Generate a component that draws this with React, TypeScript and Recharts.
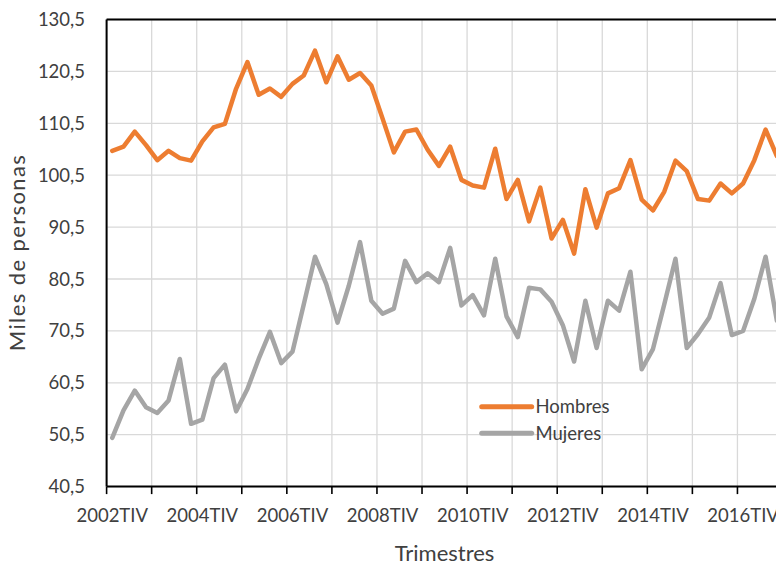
import React from 'react';
import { LineChart, Line, XAxis, YAxis, CartesianGrid, Legend, ReferenceLine, Label } from 'recharts';

const categories = [
  '2002TIV',
  '2003TI', '2003TII', '2003TIII', '2003TIV',
  '2004TI', '2004TII', '2004TIII', '2004TIV',
  '2005TI', '2005TII', '2005TIII', '2005TIV',
  '2006TI', '2006TII', '2006TIII', '2006TIV',
  '2007TI', '2007TII', '2007TIII', '2007TIV',
  '2008TI', '2008TII', '2008TIII', '2008TIV',
  '2009TI', '2009TII', '2009TIII', '2009TIV',
  '2010TI', '2010TII', '2010TIII', '2010TIV',
  '2011TI', '2011TII', '2011TIII', '2011TIV',
  '2012TI', '2012TII', '2012TIII', '2012TIV',
  '2013TI', '2013TII', '2013TIII', '2013TIV',
  '2014TI', '2014TII', '2014TIII', '2014TIV',
  '2015TI', '2015TII', '2015TIII', '2015TIV',
  '2016TI', '2016TII', '2016TIII', '2016TIV',
  '2017TI', '2017TII', '2017TIII',
];

const hombres = [
  105.2,
  106.0, 108.9, 106.3, 103.4,
  105.2, 103.8, 103.3, 107.0,
  109.7, 110.4, 117.2, 122.3,
  116.0, 117.2, 115.6, 118.1,
  119.7, 124.5, 118.4, 123.4,
  118.9, 120.2, 117.8, 111.4,
  104.9, 108.9, 109.3, 105.4,
  102.3, 106.0, 99.6, 98.5,
  98.1, 105.6, 95.9, 99.6,
  91.6, 98.1, 88.3, 91.9,
  85.4, 97.8, 90.4, 97.0,
  98.0, 103.4, 95.8, 93.7,
  97.3, 103.3, 101.3, 95.9,
  95.6, 98.9, 97.0, 98.9,
  103.4, 109.3, 104.2,
];

const mujeres = [
  49.9,
  55.2, 59.0, 55.8, 54.7,
  57.1, 65.1, 52.6, 53.4,
  61.4, 64.0, 55.0, 59.3,
  65.1, 70.3, 64.3, 66.5,
  75.6, 84.8, 79.5, 72.1,
  79.2, 87.6, 76.3, 73.8,
  74.8, 84.0, 79.9, 81.6,
  79.9, 86.5, 75.4, 77.4,
  73.5, 84.4, 73.3, 69.3,
  78.8, 78.5, 76.1, 71.6,
  64.6, 76.3, 67.2, 76.3,
  74.4, 81.9, 63.1, 67.0,
  75.6, 84.4, 67.2, 69.9,
  73.1, 79.7, 69.7, 70.5,
  76.7, 84.8, 72.5,
];

const yTicks = [40.5, 50.5, 60.5, 70.5, 80.5, 90.5, 100.5, 110.5, 120.5, 130.5];

const xTickLabels = ['2002TIV', '2004TIV', '2006TIV', '2008TIV', '2010TIV', '2012TIV', '2014TIV', '2016TIV'];

const seriesNames = ['Hombres', 'Mujeres'];
const seriesColors = ['#ED7D31', '#A5A5A5'];

const data = categories.map((c, i) => ({ trimestre: c, Hombres: hombres[i], Mujeres: mujeres[i] }));

const CHART_W = 790;
const CHART_H = 566;
const MARGIN = { top: 19.5, right: 7.5, left: 0, bottom: 0 };
const Y_AXIS_W = 106.6;
const X_AXIS_H = 79.4;
const PLOT_LEFT = MARGIN.left + Y_AXIS_W;
const PLOT_W = CHART_W - MARGIN.right - PLOT_LEFT;
const BW = PLOT_W / categories.length;
const FONT = 'Lato, "Open Sans", sans-serif';
const TEXT = '#404040';

const gridX: number[] = [];
for (let k = 0; k <= categories.length; k += 4) gridX.push(PLOT_LEFT + k * BW);

const fmt = (v: number) => v.toFixed(1).replace('.', ',');

const XTick = (props: any) => {
  const { x, y, payload } = props;
  const half = payload && typeof payload.offset === 'number' && payload.offset > 0 ? payload.offset : BW / 2;
  const show = xTickLabels.includes(payload.value);
  return (
    <g>
      <line x1={x - half} x2={x - half} y1={y} y2={y + 7.5} stroke="#000" strokeWidth={1.6} />
      {show && (
        <text x={x} y={y + 29} dy="0.355em" textAnchor="middle" fill={TEXT} fontSize={18.5} fontFamily={FONT}>
          {payload.value}
        </text>
      )}
    </g>
  );
};

const LegendContent = (props: any) => {
  const payload = props.payload && props.payload.length ? props.payload : seriesNames.map((n, i) => ({ value: n, color: seriesColors[i] }));
  return (
    <svg width={170} height={60} style={{ overflow: 'visible' }}>
      {payload.map((p: any, i: number) => {
        const cy = 16.7 + i * 26.6;
        return (
          <g key={p.value}>
            <line x1={11.7} x2={61.7} y1={cy} y2={cy} stroke={p.color} strokeWidth={5} strokeLinecap="round" />
            <text x={65.5} y={cy} dy="0.355em" fill={TEXT} fontSize={18.5} fontFamily={FONT}>
              {p.value}
            </text>
          </g>
        );
      })}
    </svg>
  );
};

export default function App() {
  return (
    <div style={{ position: 'absolute', left: 0, top: 0, width: 776, height: 566, overflow: 'hidden', background: '#fff', fontFamily: FONT }}>
      <LineChart width={CHART_W} height={CHART_H} data={data} margin={MARGIN}>
        <CartesianGrid stroke="#D9D9D9" strokeWidth={1.3} verticalPoints={gridX} />
        <XAxis
          dataKey="trimestre"
          scale="band"
          interval={3}
          height={X_AXIS_H}
          tickSize={0}
          tickMargin={0}
          tickLine={false}
          tick={<XTick />}
          axisLine={{ stroke: '#000', strokeWidth: 2 }}
        >
          <Label
            content={(p: any) => {
              const vb = p.viewBox || { x: PLOT_LEFT, width: PLOT_W };
              return (
                <text x={vb.x + vb.width / 2} y={553} dy="0.355em" textAnchor="middle" fill={TEXT} fontSize={22} fontFamily={FONT}>
                  Trimestres
                </text>
              );
            }}
          />
        </XAxis>
        <YAxis
          type="number"
          domain={[40.5, 130.5]}
          ticks={yTicks}
          width={Y_AXIS_W}
          tickSize={0}
          tickMargin={21.6}
          tickLine={false}
          tickFormatter={fmt}
          tick={{ fill: TEXT, fontSize: 18.5, fontFamily: FONT }}
          axisLine={{ stroke: '#000', strokeWidth: 2 }}
          interval={0}
        >
          <Label
            content={() => (
              <text
                x={17}
                y={252.5}
                transform="rotate(-90 17 252.5)"
                dy="0.355em"
                textAnchor="middle"
                fill={TEXT}
                fontSize={22}
                letterSpacing={1.4}
                fontFamily={FONT}
              >
                Miles de personas
              </text>
            )}
          />
        </YAxis>
        <ReferenceLine y={130.5} stroke="#000" strokeWidth={2} />
        <Line
          type="linear"
          dataKey="Hombres"
          name={seriesNames[0]}
          stroke={seriesColors[0]}
          strokeWidth={4.5}
          strokeLinejoin="round"
          strokeLinecap="round"
          dot={false}
          activeDot={false}
          isAnimationActive={false}
        />
        <Line
          type="linear"
          dataKey="Mujeres"
          name={seriesNames[1]}
          stroke={seriesColors[1]}
          strokeWidth={4.5}
          strokeLinejoin="round"
          strokeLinecap="round"
          dot={false}
          activeDot={false}
          isAnimationActive={false}
        />
        <Legend
          layout="vertical"
          align="center"
          verticalAlign="middle"
          content={<LegendContent />}
          wrapperStyle={{ left: 470, top: 390, width: 170, height: 60 }}
        />
      </LineChart>
    </div>
  );
}
